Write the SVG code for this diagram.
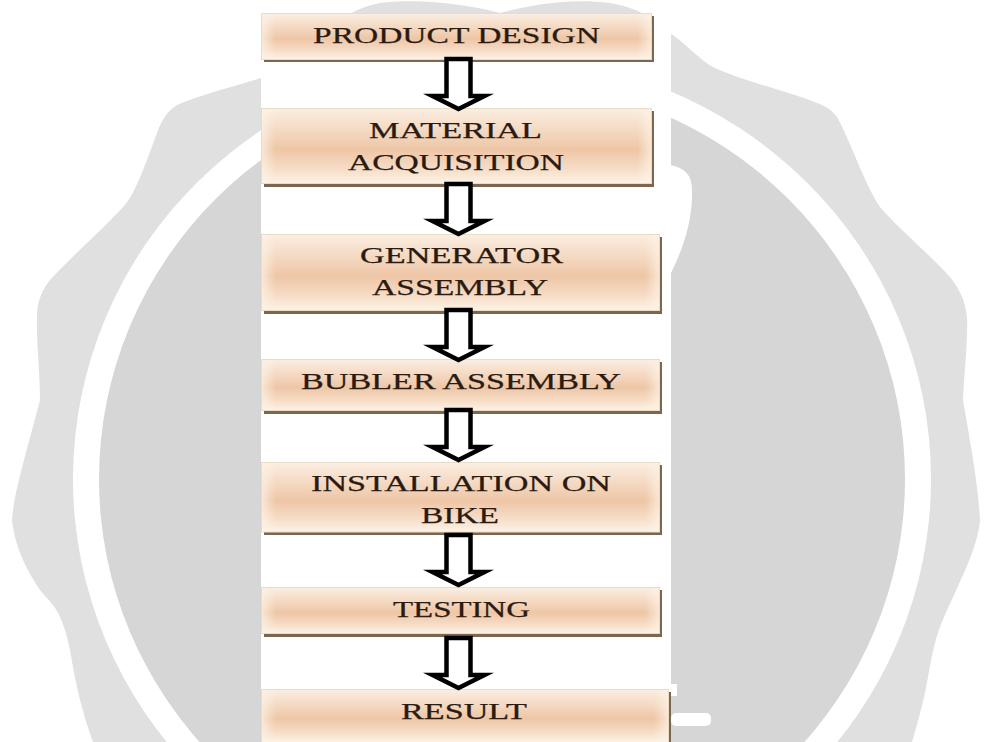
<svg xmlns="http://www.w3.org/2000/svg" width="985" height="742" viewBox="0 0 985 742">
<style>
text{font-family:"Liberation Serif","Times New Roman",serif;font-size:23px;fill:#2a1a10;stroke:#2a1a10;stroke-width:.25;text-anchor:middle}
.box{fill:url(#g);stroke:#e9dcc6;stroke-width:1}
.edge{fill:url(#e)}
.sh{fill:#7d6650}
.ar{fill:#fff;stroke:#000;stroke-width:4.5;stroke-linejoin:miter;stroke-miterlimit:6}
</style>
<defs>
<linearGradient id="g" x1="0" y1="0" x2="0" y2="1">
<stop offset="0" stop-color="#fbeee2"/><stop offset=".35" stop-color="#f3d5bc"/><stop offset=".55" stop-color="#eec6a6"/><stop offset=".8" stop-color="#f6dcc6"/><stop offset="1" stop-color="#fdf3e6"/>
</linearGradient>
<linearGradient id="e" x1="0" y1="0" x2="1" y2="0">
<stop offset="0" stop-color="#fdf3e6" stop-opacity=".7"/><stop offset=".035" stop-color="#fdf3e6" stop-opacity="0"/><stop offset=".965" stop-color="#fdf3e6" stop-opacity="0"/><stop offset="1" stop-color="#fdf3e6" stop-opacity=".7"/>
</linearGradient>
<path id="arrow" d="M-12 0V37H-26L0 50 26 37H12V0Z"/>
</defs>
<rect width="985" height="742" fill="#fff"/>
<path d="M261 78C230 88 200 95 177 105C165 112 160 125 157 133C145 165 135 195 123 207C100 232 70 258 50 280C42 290 38 300 37 313C36 340 40 370 40 400C30 440 14 490 12 520C15 550 30 575 40 590C48 600 55 605 60 617C68 635 70 650 73 667C78 695 85 720 93 742H912C920 715 925 695 928 677C932 655 935 640 940 627C955 590 978 550 980 520C978 480 968 430 963 400C964 375 968 340 967 317C965 300 960 290 950 277C930 255 895 225 880 207C865 185 850 140 837 117C830 108 825 106 817 103C790 92 740 80 713 67C700 60 685 43 670 33C655 20 640 8 610 3C570 -2 530 5 500 13C470 5 420 -2 380 3C340 10 300 50 261 78Z" fill="#e0e0e0"/>
<ellipse cx="502" cy="479" rx="429" ry="421.500" fill="#fff"/>
<ellipse cx="502" cy="479" rx="403" ry="398" fill="#d6d6d6"/>
<rect x="261" y="13" width="410" height="729" fill="#fff"/>
<path d="M670 165C685 168 692 175 692 190C693 225 680 255 670 275Z" fill="#fff"/>
<rect x="671" y="684" width="6" height="12" fill="#fff"/>
<rect x="671" y="713" width="40" height="13" rx="5" fill="#fff"/>
<g id="n1"><rect class="sh" x="264" y="16" width="390" height="46"/><rect class="box" x="261.500" y="13.500" width="390" height="46"/><rect class="edge" x="262" y="14" width="389" height="45"/><text x="456.500" y="43" textLength="287" lengthAdjust="spacingAndGlyphs">PRODUCT DESIGN</text></g>
<g id="n2"><rect class="sh" x="264" y="111" width="390" height="76"/><rect class="box" x="261.500" y="108.500" width="390" height="75"/><rect class="edge" x="262" y="109" width="389" height="74"/><text x="455.500" y="138" textLength="173" lengthAdjust="spacingAndGlyphs">MATERIAL</text><text x="456" y="170" textLength="216" lengthAdjust="spacingAndGlyphs">ACQUISITION</text></g>
<g id="n3"><rect class="sh" x="264" y="237" width="398" height="77"/><rect class="box" x="261.500" y="234.500" width="398" height="76"/><rect class="edge" x="262" y="235" width="397" height="75"/><text x="461.500" y="263" textLength="203" lengthAdjust="spacingAndGlyphs">GENERATOR</text><text x="460" y="295" textLength="176" lengthAdjust="spacingAndGlyphs">ASSEMBLY</text></g>
<g id="n4"><rect class="sh" x="264" y="362" width="398" height="52"/><rect class="box" x="261.500" y="359.500" width="398" height="51"/><rect class="edge" x="262" y="360" width="397" height="50"/><text x="461" y="389" textLength="320" lengthAdjust="spacingAndGlyphs">BUBLER ASSEMBLY</text></g>
<g id="n5"><rect class="sh" x="264" y="465" width="398" height="70"/><rect class="box" x="261.500" y="462.500" width="398" height="69.500"/><rect class="edge" x="262" y="463" width="397" height="69"/><text x="461" y="491" textLength="300" lengthAdjust="spacingAndGlyphs">INSTALLATION ON</text><text x="460" y="523" textLength="78" lengthAdjust="spacingAndGlyphs">BIKE</text></g>
<g id="n6"><rect class="sh" x="264" y="590" width="398" height="47"/><rect class="box" x="261.500" y="587.500" width="398" height="46"/><rect class="edge" x="262" y="588" width="397" height="45"/><text x="461.500" y="617" textLength="137" lengthAdjust="spacingAndGlyphs">TESTING</text></g>
<g id="n7"><rect class="sh" x="264" y="692" width="407" height="50"/><rect class="box" x="261.500" y="689.500" width="407" height="53"/><rect class="edge" x="262" y="690" width="406" height="52"/><text x="464" y="719" textLength="126" lengthAdjust="spacingAndGlyphs">RESULT</text></g>
<g id="connectors">
<use href="#arrow" class="ar" x="458.500" y="59"/>
<use href="#arrow" class="ar" x="458.500" y="184"/>
<use href="#arrow" class="ar" x="458.500" y="310"/>
<use href="#arrow" class="ar" x="458.500" y="410"/>
<use href="#arrow" class="ar" x="458.500" y="535"/>
<use href="#arrow" class="ar" x="458.500" y="638"/>
</g>
</svg>
